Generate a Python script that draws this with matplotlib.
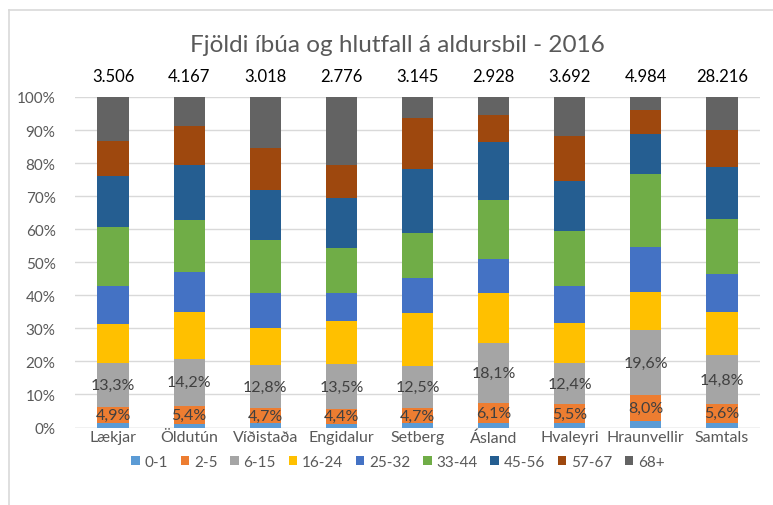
import numpy as np
import matplotlib.pyplot as plt
from matplotlib.lines import Line2D

plt.rcParams['font.family'] = ['Lato', 'DejaVu Sans']

# --- data ---
hverfi = ['Lækjar', 'Öldutún', 'Víðistaða', 'Engidalur', 'Setberg',
          'Ásland', 'Hvaleyri', 'Hraunvellir', 'Samtals']
ibuar = [3506, 4167, 3018, 2776, 3145, 2928, 3692, 4984, 28216]
aldursbil = ['0-1', '2-5', '6-15', '16-24', '25-32', '33-44', '45-56', '57-67', '68+']

# hlutfall (%) per aldursbil, one list per group
a_0_1 = [1.4, 1.2, 1.3, 1.2, 1.3, 1.3, 1.5, 1.9, 1.5]
a_2_5 = [4.9, 5.4, 4.7, 4.4, 4.7, 6.1, 5.5, 8.0, 5.6]
a_6_15 = [13.3, 14.2, 12.8, 13.5, 12.5, 18.1, 12.4, 19.6, 14.8]
a_16_24 = [11.6, 14.0, 11.2, 13.2, 16.1, 15.1, 12.2, 11.4, 12.9]
a_25_32 = [11.5, 12.1, 10.6, 8.5, 10.7, 10.4, 11.3, 13.6, 11.5]
a_33_44 = [18.0, 16.0, 16.0, 13.6, 13.6, 17.9, 16.5, 22.1, 16.9]
a_45_56 = [15.5, 16.4, 15.3, 15.0, 19.4, 17.4, 15.3, 12.3, 15.6]
a_57_67 = [10.4, 12.0, 12.6, 10.1, 15.4, 8.4, 13.5, 7.1, 11.2]
a_68 = [13.4, 8.7, 15.5, 20.5, 6.3, 5.3, 11.8, 4.0, 10.0]

series = [a_0_1, a_2_5, a_6_15, a_16_24, a_25_32, a_33_44, a_45_56, a_57_67, a_68]
colors = ['#5B9BD5', '#ED7D31', '#A5A5A5', '#FFC000', '#4472C4',
          '#70AD47', '#255E91', '#9E480E', '#636363']

W, H = 773, 506
fig = plt.figure(figsize=(W / 100, H / 100), dpi=100)
ax = fig.add_axes([75 / W, 1 - 428.5 / H, (760 - 75) / W, (428.5 - 98) / H])

x = np.arange(len(hverfi))
bottom = np.zeros(len(hverfi))
txt = '#404040'
for i, (vals, c) in enumerate(zip(series, colors)):
    vals = np.array(vals)
    ax.bar(x, vals, 0.41, bottom=bottom, color=c, label=aldursbil[i], zorder=3)
    if aldursbil[i] in ('2-5', '6-15'):
        for xi, b, v in zip(x, bottom, vals):
            ax.text(xi, b + v / 2, f'{v:.1f}%'.replace('.', ','), ha='center',
                    va='center', fontsize=11.5, color=txt, zorder=4)
    bottom += vals

# numbers of inhabitants on top
for xi, n in zip(x, ibuar):
    ax.text(xi, 106.3, f'{n:,}'.replace(',', '.'), ha='center', va='center',
            fontsize=12, color='black')

ax.set_xlim(-0.5, len(hverfi) - 0.5)
ax.set_ylim(0, 100)
ax.set_yticks(range(0, 101, 10))
ax.set_yticklabels([f'{v}%' for v in range(0, 101, 10)])
ax.set_xticks(x)
ax.set_xticklabels(hverfi)
ax.tick_params(axis='both', length=0, labelsize=11, colors='#595959')
ax.tick_params(axis='x', pad=2, labelsize=11.5)
ax.tick_params(axis='y', pad=14)
ax.grid(axis='y', color='#D9D9D9', linewidth=1, zorder=0)
for s in ax.spines.values():
    s.set_visible(False)
ax.axhline(0, color='#D9D9D9', linewidth=1, zorder=2)

fig.text(397 / W, 1 - 45 / H, 'Fjöldi íbúa og hlutfall á aldursbil - 2016',
         ha='center', va='center', fontsize=17.5, color='#595959')

leg = fig.legend(*ax.get_legend_handles_labels(), loc='center',
                 bbox_to_anchor=(398 / W, 1 - 463 / H), ncol=9,
                 frameon=False, fontsize=11, handlelength=0.55, handleheight=0.55,
                 handletextpad=0.3, columnspacing=0.85)
for t in leg.get_texts():
    t.set_color('#595959')

# chart border (only left/top visible in reference)
fig.add_artist(Line2D([8.5 / W, 8.5 / W], [0, 1 - 11 / H], color='#D9D9D9', lw=1.2))
fig.add_artist(Line2D([8.5 / W, 1], [1 - 11 / H, 1 - 11 / H], color='#D9D9D9', lw=1.2))

fig.savefig('out.png', dpi=100)
